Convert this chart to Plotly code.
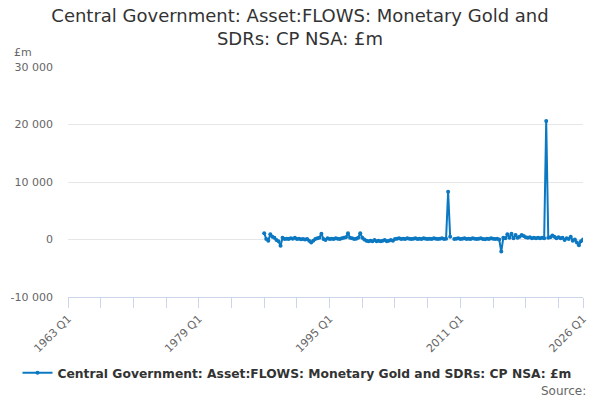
import plotly.graph_objects as go

# quarter labels 1963 Q1 .. 2026 Q1
quarters = [f"{y} Q{q}" for y in range(1963, 2027) for q in range(1, 5)][:253]

# £m flows, series starts 1987 Q1 (one row per year)
flows_1987_on = [
    1100, 100, -200, 900,        # 1987
    500, 300, -100, -300,        # 1988
    -1100, 300, 100, 150,        # 1989
    100, 200, 150, 300,          # 1990
    100, 150, 50, 100,           # 1991
    0, 100, -200, -500,          # 1992
    -200, 100, 200, 300,         # 1993
    1000, 100, -100, 200,        # 1994
    100, 150, 100, 200,          # 1995
    150, 100, 200, 300,          # 1996
    400, 1100, 300, 200,         # 1997
    100, 150, 300, 1100,         # 1998
    300, 0, -200, -300,          # 1999
    -200, -300, -100, -300,      # 2000
    -200, -300, -200, -100,      # 2001
    -300, -200, -100, -200,      # 2002
    100, 150, 200, 100,          # 2003
    150, 100, 200, 150,          # 2004
    100, 150, 200, 100,          # 2005
    150, 100, 200, 150,          # 2006
    100, 150, 100, 200,          # 2007
    150, 100, 150, 200,          # 2008
    100, 150, 8300, 500,         # 2009
    None, 100, 150, 200,         # 2010
    100, 150, 200, 100,          # 2011
    150, 100, 200, 150,          # 2012
    100, 150, 200, 100,          # 2013
    50, 150, 100, 200,           # 2014
    150, 100, 150, 0,            # 2015
    -2100, 300, 200, 900,        # 2016
    300, 1000, 200, 800,         # 2017
    300, 500, 800, 600,          # 2018
    400, 300, 400, 200,          # 2019
    300, 200, 300, 200,          # 2020
    300, 200, 20600, 300,        # 2021
    400, 700, 500, 200,          # 2022
    400, 200, 300, -100,         # 2023
    200, 100, 500, -200,         # 2024
    0, -500, -1000, -300,        # 2025
    0,                           # 2026
]
values = [None] * 96 + flows_1987_on

y_ticks = [-10000, 0, 10000, 20000, 30000]
y_labels = ["-10 000", "0", "10 000", "20 000", "30 000"]

# a tick every 16 quarters, a label every 64, plus the last quarter
tick_cats = quarters[::16] + [quarters[-1]]
tick_text = [c if (i % 4 == 0) else "" for i, c in enumerate(quarters[::16])] + [quarters[-1]]
tick_text[-2] = ""

name = "Central Government: Asset:FLOWS: Monetary Gold and SDRs: CP NSA: £m"
blue = "#0b78c1"

fig = go.Figure()
fig.add_trace(go.Scatter(
    x=quarters, y=values, name=name, mode="lines+markers",
    line=dict(color=blue, width=2),
    marker=dict(color=blue, size=4),
    connectgaps=False,
))

fig.update_layout(
    width=600, height=400,
    paper_bgcolor="white", plot_bgcolor="white",
    font=dict(family="DejaVu Sans", color="#666666", size=11),
    margin=dict(l=68, r=17, t=67, b=103),
    title=dict(
        text="Central Government: Asset:FLOWS: Monetary Gold and<br>SDRs: CP NSA: £m",
        x=0.5, xanchor="center", y=0.945, yanchor="top",
        font=dict(size=18, color="#333333"),
    ),
    showlegend=True,
    legend=dict(
        orientation="h", xref="container", x=0.495, xanchor="center",
        yref="container", y=0.068, yanchor="middle",
        font=dict(size=12.3, color="#333333", weight="bold"),
        itemwidth=30,
    ),
    xaxis=dict(
        type="category",
        range=[0, 252],
        tickmode="array", tickvals=tick_cats, ticktext=tick_text,
        tickangle=-45,
        ticks="outside", ticklen=10, tickcolor="#ccd6eb",
        showline=True, linecolor="#ccd6eb", linewidth=1,
        showgrid=False, zeroline=False, automargin=False,
        tickfont=dict(size=11, color="#666666"),
    ),
    yaxis=dict(
        range=[-10000, 30000],
        tickmode="array", tickvals=y_ticks, ticktext=y_labels,
        showgrid=True, gridcolor="#e6e6e6", zeroline=False,
        showline=False, ticks="", automargin=False,
        ticklabelstandoff=14,
        tickfont=dict(size=11, color="#666666"),
    ),
    annotations=[
        dict(text="£m", xref="paper", yref="paper", x=-0.109, y=1.065,
             xanchor="left", yanchor="middle", showarrow=False,
             font=dict(size=11, color="#666666")),
        dict(text="Source:", xref="paper", yref="paper", x=1.01, y=-0.41,
             xanchor="right", yanchor="middle", showarrow=False,
             font=dict(size=12, color="#666666")),
    ],
)

# drop the page's default body margin so the figure sits at the window corner
fig.write_html("out.html", config={"displayModeBar": False},
               post_script="document.body.style.margin='0';")
